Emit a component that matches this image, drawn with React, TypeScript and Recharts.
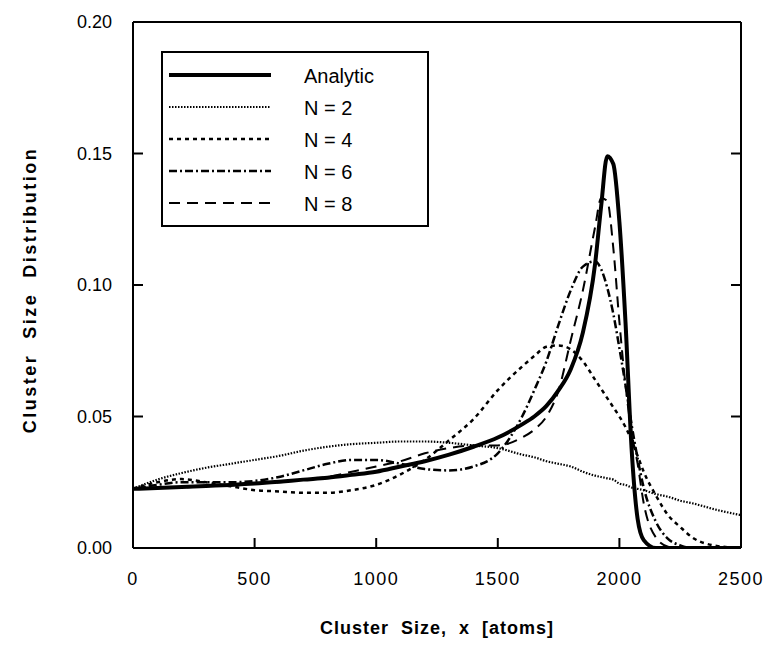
import { Legend, Line, LineChart, XAxis, YAxis } from "recharts";

// cluster size (atoms)
const sizes = [
  0, 100, 200, 300, 400, 500, 600, 700, 800, 900, 1000, 1100, 1200, 1300, 1400,
  1500, 1600, 1650, 1700, 1750, 1800, 1850, 1900, 1925, 1950, 1975, 2000, 2025,
  2050, 2075, 2100, 2150, 2200, 2250, 2300, 2400, 2500,
];

const analytic = [
  0.0225, 0.0228, 0.0232, 0.0236, 0.024, 0.0245, 0.0252, 0.026, 0.0267, 0.0278,
  0.029, 0.031, 0.033, 0.0355, 0.0385, 0.042, 0.047, 0.05, 0.054, 0.06, 0.068,
  0.082, 0.108, 0.13, 0.149, 0.146, 0.124, 0.086, 0.038, 0.011, 0.003, 0, 0, 0,
  0, 0, 0,
];

const n2 = [
  0.0225, 0.026, 0.0285, 0.0305, 0.032, 0.0335, 0.035, 0.037, 0.0385, 0.0395,
  0.04, 0.0405, 0.0405, 0.04, 0.039, 0.038, 0.0355, 0.0345, 0.033, 0.032, 0.031,
  0.029, 0.0275, 0.027, 0.0265, 0.026, 0.0245, 0.024, 0.023, 0.0225, 0.022,
  0.0205, 0.0195, 0.018, 0.017, 0.0145, 0.0125,
];

const n4 = [
  0.0225, 0.025, 0.0262, 0.025, 0.0235, 0.022, 0.0215, 0.021, 0.021, 0.022,
  0.024, 0.028, 0.0335, 0.041, 0.049, 0.06, 0.069, 0.073, 0.0765, 0.077, 0.0755,
  0.071, 0.064, 0.0605, 0.057, 0.0535, 0.05, 0.046, 0.041, 0.035, 0.029, 0.02,
  0.0125, 0.008, 0.004, 0.0008, 0,
];

const n6 = [
  0.0225, 0.024, 0.025, 0.025, 0.025, 0.0255, 0.027, 0.0295, 0.032, 0.0335,
  0.0335, 0.032, 0.03, 0.0295, 0.031, 0.036, 0.05, 0.06, 0.071, 0.085, 0.098,
  0.107, 0.109, 0.106, 0.099, 0.089, 0.076, 0.062, 0.047, 0.034, 0.023, 0.01,
  0.0035, 0.001, 0, 0, 0,
];

const n8 = [
  0.0225, 0.0228, 0.023, 0.0235, 0.024, 0.0245, 0.025, 0.026, 0.027, 0.029,
  0.031, 0.033, 0.036, 0.038, 0.039, 0.039, 0.042, 0.045, 0.05, 0.06, 0.079,
  0.098, 0.122, 0.133, 0.132, 0.114, 0.086, 0.062, 0.044, 0.032, 0.017, 0.004,
  0.0005, 0, 0, 0, 0,
];

const xTicks = [0, 500, 1000, 1500, 2000, 2500];
const yTicks = [0, 0.05, 0.1, 0.15, 0.2];

const series = [
  { key: "analytic", name: "Analytic", width: 4, dash: undefined },
  { key: "n2", name: "N = 2", width: 2.2, dash: "1.5 1.5" },
  { key: "n4", name: "N = 4", width: 2.5, dash: "4 4" },
  { key: "n6", name: "N = 6", width: 2.5, dash: "8 3 2 3" },
  { key: "n8", name: "N = 8", width: 2, dash: "11 7" },
];

const data = sizes.map((x, i) => ({
  x,
  analytic: analytic[i],
  n2: n2[i],
  n4: n4[i],
  n6: n6[i],
  n8: n8[i],
}));

const FONT = "'Liberation Sans', Arial, Helvetica, sans-serif";
const TICK_LEN = 10;
// plot frame edges (px)
const LEFT = 133;
const RIGHT = 741;
const TOP = 22;
const BOTTOM = 548;
const TOP_AXIS_H = 12;

const BottomTick = (props: any) => {
  const { x, payload } = props;
  const v = payload.value;
  const inner = v > 0 && v < 2500;
  return (
    <g>
      {inner && <line x1={x} x2={x} y1={BOTTOM} y2={BOTTOM - TICK_LEN} stroke="#000" strokeWidth={2} />}
      <text x={x} y={BOTTOM + 37} textAnchor="middle" fontSize={18} fontFamily={FONT} letterSpacing={1.5} fill="#000">
        {v}
      </text>
    </g>
  );
};

const TopTick = (props: any) => {
  const { x, payload } = props;
  const v = payload.value;
  if (!(v > 0 && v < 2500)) return <g />;
  return <line x1={x} x2={x} y1={TOP} y2={TOP + TICK_LEN} stroke="#000" strokeWidth={2} />;
};

const LeftTick = (props: any) => {
  const { y, payload } = props;
  const v = payload.value;
  const inner = v > 0 && v < 0.2;
  return (
    <g>
      {inner && <line x1={LEFT} x2={LEFT + TICK_LEN} y1={y} y2={y} stroke="#000" strokeWidth={2} />}
      <text x={LEFT - 21} y={y + 6} textAnchor="end" fontSize={18} fontFamily={FONT} fill="#000">
        {v.toFixed(2)}
      </text>
    </g>
  );
};

const RightTick = (props: any) => {
  const { y, payload } = props;
  const v = payload.value;
  if (!(v > 0 && v < 0.2)) return <g />;
  return <line x1={RIGHT} x2={RIGHT - TICK_LEN} y1={y} y2={y} stroke="#000" strokeWidth={2} />;
};

const LegendBox = () => (
  <div
    style={{
      width: 264,
      height: 172,
      border: "2px solid #000",
      background: "#fff",
      boxSizing: "content-box",
      fontFamily: FONT,
      color: "#000",
    }}
  >
    <svg width={264} height={172} style={{ display: "block" }}>
      {series.map((s, i) => (
        <g key={s.key}>
          <line
            x1={6}
            x2={108}
            y1={22 + i * 32}
            y2={22 + i * 32}
            stroke="#000"
            strokeWidth={s.width}
            strokeDasharray={s.dash}
          />
          <text x={141} y={30 + i * 32} fontSize={20} fontFamily={FONT} fill="#000">
            {s.name}
          </text>
        </g>
      ))}
    </svg>
  </div>
);

const YTitle = (props: any) => {
  const vb = props.viewBox;
  const cx = 30;
  const cy = vb.y + vb.height / 2 + 5;
  return (
    <text
      x={cx}
      y={cy}
      transform={`rotate(-90, ${cx}, ${cy})`}
      textAnchor="middle"
      dominantBaseline="central"
      fontSize={18}
      fontWeight="bold"
      fontFamily={FONT}
      letterSpacing={2.5}
      style={{ whiteSpace: "pre" }}
      fill="#000"
    >
      {"Cluster  Size  Distribution"}
    </text>
  );
};

const XTitle = (props: any) => {
  const vb = props.viewBox;
  const cx = vb.x + vb.width / 2;
  return (
    <text
      x={cx}
      y={634}
      textAnchor="middle"
      fontSize={18}
      fontWeight="bold"
      fontFamily={FONT}
      letterSpacing={1}
      style={{ whiteSpace: "pre" }}
      fill="#000"
    >
      {"Cluster  Size,  x  [atoms]"}
    </text>
  );
};

export default function App() {
  return (
    <div style={{ width: 772, height: 653, background: "#fff" }}>
      <style>{"body{margin:0;background:#fff}"}</style>
      <LineChart
        width={772}
        height={653}
        data={data}
        margin={{ top: TOP - TOP_AXIS_H, right: 772 - RIGHT - 1, bottom: 0, left: 0 }}
      >
        <XAxis
          dataKey="x"
          type="number"
          domain={[0, 2500]}
          ticks={xTicks}
          interval={0}
          allowDataOverflow
          height={653 - BOTTOM}
          tickLine={false}
          axisLine={{ stroke: "#000", strokeWidth: 2 }}
          tick={<BottomTick />}
          label={<XTitle />}
        />
        <XAxis
          xAxisId="top"
          orientation="top"
          type="number"
          domain={[0, 2500]}
          ticks={xTicks}
          interval={0}
          allowDataOverflow
          height={TOP_AXIS_H}
          tickLine={false}
          axisLine={{ stroke: "#000", strokeWidth: 2 }}
          tick={<TopTick />}
        />
        <YAxis
          type="number"
          domain={[0, 0.2]}
          ticks={yTicks}
          interval={0}
          allowDataOverflow
          width={LEFT}
          tickLine={false}
          axisLine={{ stroke: "#000", strokeWidth: 2 }}
          tick={<LeftTick />}
          label={<YTitle />}
        />
        <YAxis
          yAxisId="right"
          orientation="right"
          type="number"
          domain={[0, 0.2]}
          ticks={yTicks}
          interval={0}
          allowDataOverflow
          width={1}
          tickLine={false}
          axisLine={{ stroke: "#000", strokeWidth: 2 }}
          tick={<RightTick />}
        />
        <Legend
          layout="vertical"
          align="center"
          verticalAlign="middle"
          content={<LegendBox />}
          wrapperStyle={{ left: 161, top: 51, width: 268, height: 176 }}
        />
        {series.map((s) => (
          <Line
            key={s.key}
            type="monotone"
            dataKey={s.key}
            name={s.name}
            stroke="#000"
            strokeWidth={s.width}
            strokeDasharray={s.dash}
            dot={false}
            activeDot={false}
            isAnimationActive={false}
          />
        ))}
      </LineChart>
    </div>
  );
}
